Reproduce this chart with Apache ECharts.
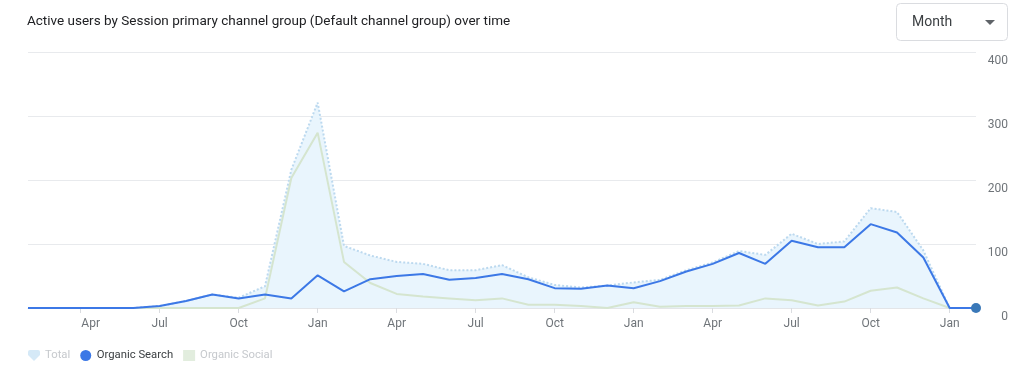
<!DOCTYPE html>
<html>
<head>
<meta charset="utf-8">
<title>Active users by channel group</title>
<script src="https://cdn.jsdelivr.net/npm/echarts@6/dist/echarts.min.js"></script>
<style>
  html, body { margin: 0; padding: 0; background: #fff; }
  #chart { width: 1024px; height: 378px; }
</style>
</head>
<body>
<div id="chart"></div>
<script>
// --- Data ---
const months = [
  'Feb', 'Mar', 'Apr', 'May', 'Jun', 'Jul', 'Aug', 'Sep', 'Oct', 'Nov', 'Dec',
  'Jan', 'Feb', 'Mar', 'Apr', 'May', 'Jun', 'Jul', 'Aug', 'Sep', 'Oct', 'Nov', 'Dec',
  'Jan', 'Feb', 'Mar', 'Apr', 'May', 'Jun', 'Jul', 'Aug', 'Sep', 'Oct', 'Nov', 'Dec',
  'Jan', 'Feb',
];
const tickMonths = ['Jan', 'Apr', 'Jul', 'Oct'];

const organicSearch = [
  0, 0, 0, 0, 0, 3, 11, 21, 15, 21, 15,
  51, 26, 45, 50, 53, 44, 47, 53, 45, 31, 30, 35,
  31, 42, 57, 69, 86, 69, 105, 95, 95, 131, 118, 79,
  0, 0,
];
const organicSocial = [
  0, 0, 0, 0, 0, 0, 0, 0, 0, 15, 203,
  274, 72, 39, 22, 18, 15, 12, 15, 5, 5, 3, 0,
  9, 2, 3, 3, 4, 15, 12, 4, 10, 27, 32, 15,
  0, 0,
];
const total = [
  0, 0, 0, 0, 0, 3, 11, 21, 16, 34, 216,
  321, 97, 82, 72, 69, 59, 59, 67, 48, 36, 32, 35,
  40, 44, 59, 71, 89, 83, 116, 100, 104, 156, 150, 90,
  0, 0,
];

const yTicks = [0, 100, 200, 300, 400];

const FONT = 'Roboto, "Noto Sans", sans-serif';

const chart = echarts.init(document.getElementById('chart'));

// last point gets the round marker
const searchData = organicSearch.map((v, i) =>
  i === organicSearch.length - 1
    ? { value: v, symbol: 'circle', symbolSize: 10, itemStyle: { color: '#3a78b8' } }
    : v
);

const option = {
  animation: false,
  title: {
    text: 'Active users by Session primary channel group (Default channel group) over time',
    left: 27,
    top: 15,
    padding: 0,
    textStyle: {
      fontFamily: FONT,
      fontSize: 13.5,
      fontWeight: 'normal',
      color: '#202124',
    },
  },
  legend: {
    left: 28,
    top: 350,
    padding: 0,
    itemWidth: 12,
    itemHeight: 11,
    itemGap: 10,
    selectedMode: false,
    textStyle: { fontFamily: FONT, fontSize: 11.3 },
    data: [
      {
        name: 'Total',
        icon: 'path://M2,0 L10,0 Q12,0 12,2 L12,5 L6,11 L0,5 L0,2 Q0,0 2,0 Z',
        itemStyle: { color: '#d5e9f7' },
        textStyle: { color: '#c6c9cd' },
      },
      {
        name: 'Organic Search',
        icon: 'circle',
        itemStyle: { color: '#3c78e6' },
        textStyle: { color: '#3c4043' },
      },
      {
        name: 'Organic Social',
        icon: 'rect',
        itemStyle: { color: '#e2edde' },
        textStyle: { color: '#c6c9cd' },
      },
    ],
  },
  grid: {
    left: 28,
    right: 48,
    top: 52,
    bottom: 70,
  },
  xAxis: {
    type: 'category',
    data: months,
    boundaryGap: false,
    axisLine: { show: true, lineStyle: { color: '#e3e5e8' } },
    axisTick: {
      show: true,
      length: 5,
      interval: (i, v) => tickMonths.includes(v),
      lineStyle: { color: '#dadce0' },
    },
    axisLabel: {
      interval: (i, v) => tickMonths.includes(v),
      fontFamily: FONT,
      fontSize: 12,
      color: '#6f7479',
      margin: 10,
      formatter: (v, i) => (i === 2 ? '{first|' + v + '}' : v),
      rich: {
        first: { padding: [0, 0, 0, 20], fontFamily: FONT, fontSize: 12, color: '#6f7479' },
      },
    },
  },
  yAxis: {
    type: 'value',
    position: 'right',
    min: yTicks[0],
    max: yTicks[yTicks.length - 1],
    interval: 100,
    axisLine: { show: false },
    axisTick: { show: false },
    axisLabel: {
      fontFamily: FONT,
      fontSize: 12,
      color: '#6f7479',
      align: 'right',
      verticalAlign: 'top',
      padding: [3, 0, 0, 0],
      margin: 32,
    },
    splitLine: { lineStyle: { color: '#e8eaed', width: 1 } },
  },
  series: [
    {
      name: 'Total',
      type: 'line',
      data: total,
      symbol: 'none',
      lineStyle: { color: '#bcd9ef', width: 2, type: 'dotted' },
      areaStyle: { color: '#e9f5fd', opacity: 1 },
      itemStyle: { color: '#d5e9f7' },
      z: 1,
    },
    {
      name: 'Organic Social',
      type: 'line',
      data: organicSocial,
      symbol: 'none',
      lineStyle: { color: '#d5e5cf', width: 2 },
      itemStyle: { color: '#e2edde' },
      z: 2,
    },
    {
      name: 'Organic Search',
      type: 'line',
      data: searchData,
      symbol: 'none',
      showSymbol: true,
      lineStyle: { color: '#3c78e6', width: 2 },
      itemStyle: { color: '#3c78e6' },
      z: 3,
    },
  ],
  graphic: [
    {
      type: 'rect',
      shape: { x: 896.5, y: 3.5, width: 111, height: 37, r: 4 },
      style: { fill: '#fff', stroke: '#dadce0', lineWidth: 1 },
    },
    {
      type: 'text',
      x: 912,
      y: 22,
      style: {
        text: 'Month',
        fontFamily: FONT,
        fontSize: 14,
        fill: '#3c4043',
        verticalAlign: 'middle',
      },
    },
    {
      type: 'polygon',
      shape: { points: [[985, 20], [995, 20], [990, 25]] },
      style: { fill: '#5f6368' },
    },
  ],
};

chart.setOption(option);
</script>
</body>
</html>
